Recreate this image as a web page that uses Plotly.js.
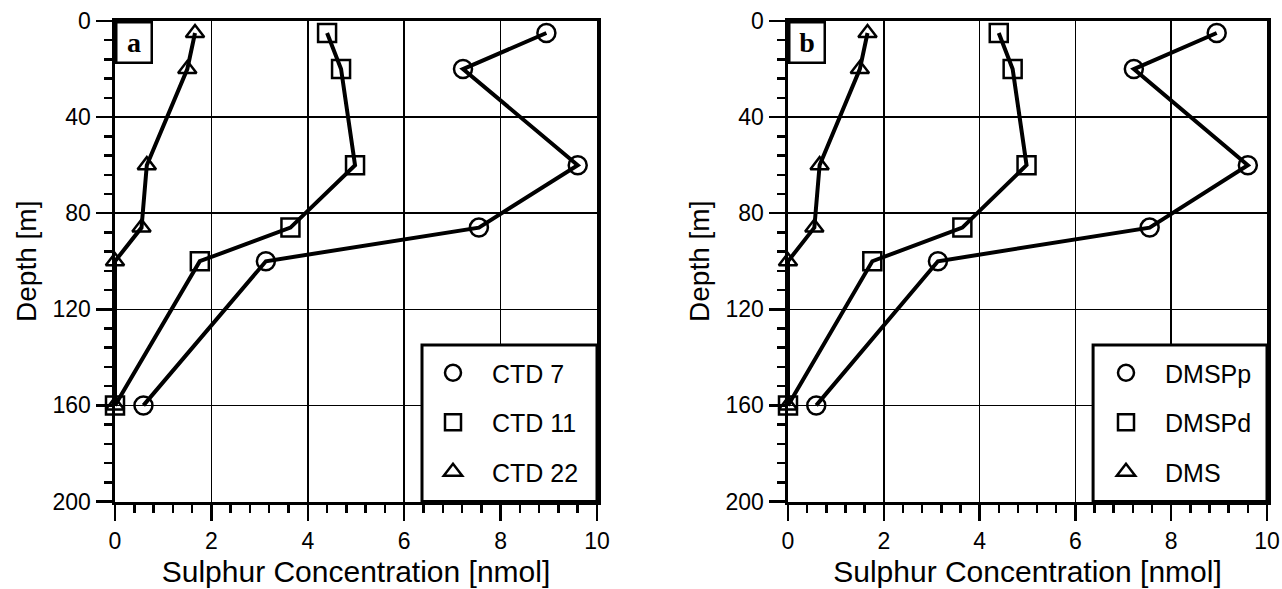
<!DOCTYPE html>
<html>
<head>
<meta charset="utf-8">
<script src="https://cdn.plot.ly/plotly-3.0.1.min.js"></script>
<style>html,body{margin:0;padding:0;background:#fff;}#chart{width:1282px;height:589px;}</style>
</head>
<body>
<div id="chart"></div>
<script>
// ---- data ----
const depth = [5, 20, 60, 86, 100, 160];
const seriesCircle = [8.95, 7.22, 9.6, 7.55, 3.13, 0.59];
const seriesSquare = [4.4, 4.69, 4.98, 3.64, 1.76, 0];
const seriesTriangle = [1.66, 1.5, 0.66, 0.55, 0, 0];
const namesA = ['CTD 7', 'CTD 11', 'CTD 22'];
const namesB = ['DMSPp', 'DMSPd', 'DMS'];
const panelLabels = ['a', 'b'];
const xTitle = 'Sulphur Concentration [nmol]';
const yTitle = 'Depth [m]';

const FONT = 'Liberation Sans, Arial, sans-serif';
const symbols = ['circle-open', 'square-open', 'triangle-up-open'];
const sizes = [18, 18, 16];
const allSeries = [seriesCircle, seriesSquare, seriesTriangle];

const traces = [];
[namesA, namesB].forEach((names, p) => {
  const xa = p === 0 ? 'x' : 'x2';
  const ya = p === 0 ? 'y' : 'y2';
  const leg = p === 0 ? 'legend' : 'legend2';
  allSeries.forEach((s, i) => {
    traces.push({
      x: s, y: depth, xaxis: xa, yaxis: ya, mode: 'lines',
      line: {color: '#000', width: 4}, showlegend: false, hoverinfo: 'skip'
    });
  });
  allSeries.forEach((s, i) => {
    traces.push({
      x: s, y: depth, xaxis: xa, yaxis: ya, mode: 'markers', name: names[i],
      legend: leg, legendgroup: leg + i, cliponaxis: false,
      marker: {symbol: symbols[i], size: sizes[i], color: '#000', line: {width: 2.5, color: '#000'}}
    });
  });
});

function xaxis(domain, anchor) {
  return {
    domain: domain, anchor: anchor, range: [0, 10], dtick: 2, tick0: 0,
    showline: true, mirror: true, linewidth: 3.5, linecolor: '#000',
    showgrid: true, gridcolor: '#000', gridwidth: 1.5, zeroline: false,
    ticks: 'outside', ticklen: 16, tickwidth: 2.5, tickcolor: '#000',
    minor: {dtick: 0.4, ticks: 'outside', ticklen: 8, tickwidth: 2.5, tickcolor: '#000', showgrid: false},
    tickfont: {family: FONT, size: 23, color: '#000'},
    title: {text: xTitle, font: {family: FONT, size: 30, color: '#000'}, standoff: 9},
    automargin: false, fixedrange: true
  };
}
function yaxis(domain, anchor) {
  return {
    domain: domain, anchor: anchor, range: [200, 0], dtick: 40, tick0: 0,
    showline: true, mirror: true, linewidth: 3.5, linecolor: '#000',
    showgrid: true, gridcolor: '#000', gridwidth: 1.5, zeroline: false,
    ticks: 'outside', ticklen: 16, tickwidth: 2.5, tickcolor: '#000',
    minor: {dtick: 8, ticks: 'outside', ticklen: 8, tickwidth: 2.5, tickcolor: '#000', showgrid: false},
    tickfont: {family: FONT, size: 23, color: '#000'},
    title: {text: yTitle, font: {family: FONT, size: 28, color: '#000'}, standoff: 8},
    automargin: false, fixedrange: true
  };
}

const W = 1282, H = 589;
const yDom = [1 - 501.5 / H, 1 - 21 / H];
const xDomA = [115 / W, 597 / W];
const xDomB = [788 / W, 1267 / W];

function legendObj(xpx) {
  return {
    x: xpx / W, xanchor: 'left', y: 1 - 350 / H, yanchor: 'top',
    bgcolor: 'rgba(0,0,0,0)', borderwidth: 0,
    font: {family: FONT, size: 25, color: '#000'},
    tracegroupgap: 14, itemwidth: 68
  };
}

const shapes = [];
const annotations = [];
[['x', 'y'], ['x2', 'y2']].forEach((ax, p) => {
  shapes.push({
    type: 'rect', xref: ax[0] + ' domain', yref: ax[1] + ' domain',
    x0: (422 - 115) / 482, x1: 1, y0: 0, y1: 1 - (345 - 21) / 480.5,
    line: {color: '#000', width: 3}, fillcolor: '#fff', layer: 'above'
  });
  annotations.push({
    xref: ax[0] + ' domain', yref: ax[1] + ' domain', x: 0, y: 1,
    xanchor: 'left', yanchor: 'top', showarrow: false,
    text: '<b>' + panelLabels[p] + '</b>',
    font: {family: 'Liberation Serif, Times New Roman, serif', size: 28, color: '#000'},
    bgcolor: '#fff', bordercolor: '#000', borderwidth: 2.5,
    width: 31, height: 36, borderpad: 1
  });
});

const layout = {
  width: W, height: H,
  margin: {l: 0, r: 0, t: 0, b: 0},
  paper_bgcolor: '#fff', plot_bgcolor: '#fff',
  xaxis: xaxis(xDomA, 'y'), yaxis: yaxis(yDom, 'x'),
  xaxis2: xaxis(xDomB, 'y2'), yaxis2: yaxis(yDom, 'x2'),
  legend: legendObj(414), legend2: legendObj(1087),
  shapes: shapes, annotations: annotations,
  hovermode: false
};

Plotly.newPlot('chart', traces, layout, {displayModeBar: false, staticPlot: true});
</script>
</body>
</html>
